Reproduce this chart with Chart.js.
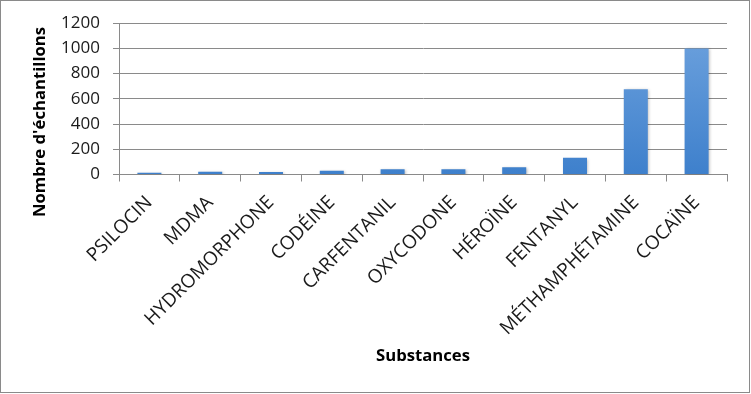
<!DOCTYPE html>
<html>
<head>
<meta charset="utf-8">
<script src="https://cdn.jsdelivr.net/npm/chart.js@4/dist/chart.umd.min.js"></script>
<style>
  html, body { margin: 0; padding: 0; background: #fff; }
  #wrap { position: absolute; left: 0; top: 0; width: 751px; height: 394px; }
  #frame { position: absolute; left: 0; top: 0; width: 750px; height: 393px; box-sizing: border-box; border: 1px solid #8a8a8a; }
  canvas { position: absolute; left: 0; top: 0; }
</style>
</head>
<body>
<div id="wrap">
  <div id="frame"></div>
  <canvas id="c" width="751" height="394"></canvas>
</div>
<script>
const categories = ["PSILOCIN", "MDMA", "HYDROMORPHONE", "CODÉINE", "CARFENTANIL", "OXYCODONE", "HÉROÏNE", "FENTANYL", "MÉTHAMPHÉTAMINE", "COCAÏNE"];
const samples = [13, 22, 20, 29, 42, 42, 58, 133, 677, 1000];
const yTicks = [0, 200, 400, 600, 800, 1000, 1200];
const yTitle = "Nombre d'échantillons";
const xTitle = "Substances";

const FONT = "'Open Sans', 'Noto Sans', sans-serif";

const barShadow = {
  id: 'barShadow',
  beforeDatasetsDraw(chart) {
    const ctx = chart.ctx;
    ctx.save();
    ctx.shadowColor = 'rgba(0,0,0,0.28)';
    ctx.shadowBlur = 3;
    ctx.shadowOffsetX = 1;
    ctx.shadowOffsetY = 1;
  },
  afterDatasetsDraw(chart) {
    chart.ctx.restore();
  }
};

const yTitlePlugin = {
  id: 'yTitlePlugin',
  afterDraw(chart) {
    const ctx = chart.ctx;
    ctx.save();
    ctx.translate(40, 122);
    ctx.rotate(-Math.PI / 2);
    ctx.font = "bold 16.7px " + FONT;
    ctx.fillStyle = '#000';
    ctx.textAlign = 'center';
    ctx.textBaseline = 'middle';
    ctx.fillText(yTitle, 0, 0);
    ctx.restore();
  }
};

function barGradient(context) {
  const chart = context.chart;
  const area = chart.chartArea;
  if (!area) return '#4a8bd6';
  const y0 = chart.scales.y.getPixelForValue(0);
  const el = context.element;
  const top = el && el.y !== undefined ? el.y : area.top;
  const g = chart.ctx.createLinearGradient(0, Math.min(top, y0 - 1), 0, y0);
  g.addColorStop(0, '#6fa3de');
  g.addColorStop(1, '#3e80cc');
  return g;
}

new Chart(document.getElementById('c'), {
  type: 'bar',
  data: {
    labels: categories,
    datasets: [{
      data: samples,
      backgroundColor: barGradient,
      borderWidth: 0,
      categoryPercentage: 1.0,
      barPercentage: 0.395
    }]
  },
  plugins: [barShadow, yTitlePlugin],
  options: {
    responsive: false,
    animation: false,
    devicePixelRatio: 1,
    layout: { padding: { left: 0, right: 24, top: 23, bottom: 0 } },
    plugins: {
      legend: { display: false },
      tooltip: { enabled: false }
    },
    scales: {
      x: {
        grid: {
          offset: true,
          drawOnChartArea: false,
          drawTicks: true,
          tickLength: 7,
          color: '#8a8a8a',
          lineWidth: 1
        },
        border: { color: '#8a8a8a', width: 1 },
        ticks: {
          autoSkip: false,
          minRotation: 45,
          maxRotation: 45,
          padding: 10,
          color: '#1a1a1a',
          font: { family: FONT, size: 19 }
        },
        title: {
          display: true,
          text: xTitle,
          color: '#000',
          font: { family: FONT, size: 16.7, weight: 'bold' },
          padding: { top: 0, bottom: 28 }
        },
        afterFit(scale) { scale.height = 394 - 174.5; }
      },
      y: {
        min: 0,
        max: 1200,
        afterBuildTicks(scale) { scale.ticks = yTicks.map(v => ({ value: v })); },
        grid: {
          color: '#8a8a8a',
          lineWidth: 1,
          tickLength: 6
        },
        border: { color: '#8a8a8a', width: 1 },
        ticks: {
          padding: 13,
          color: '#1a1a1a',
          font: { family: FONT, size: 17 },
          callback: (v) => String(v)
        },
        afterFit(scale) { scale.width = 119; }
      }
    }
  }
});
</script>
</body>
</html>
